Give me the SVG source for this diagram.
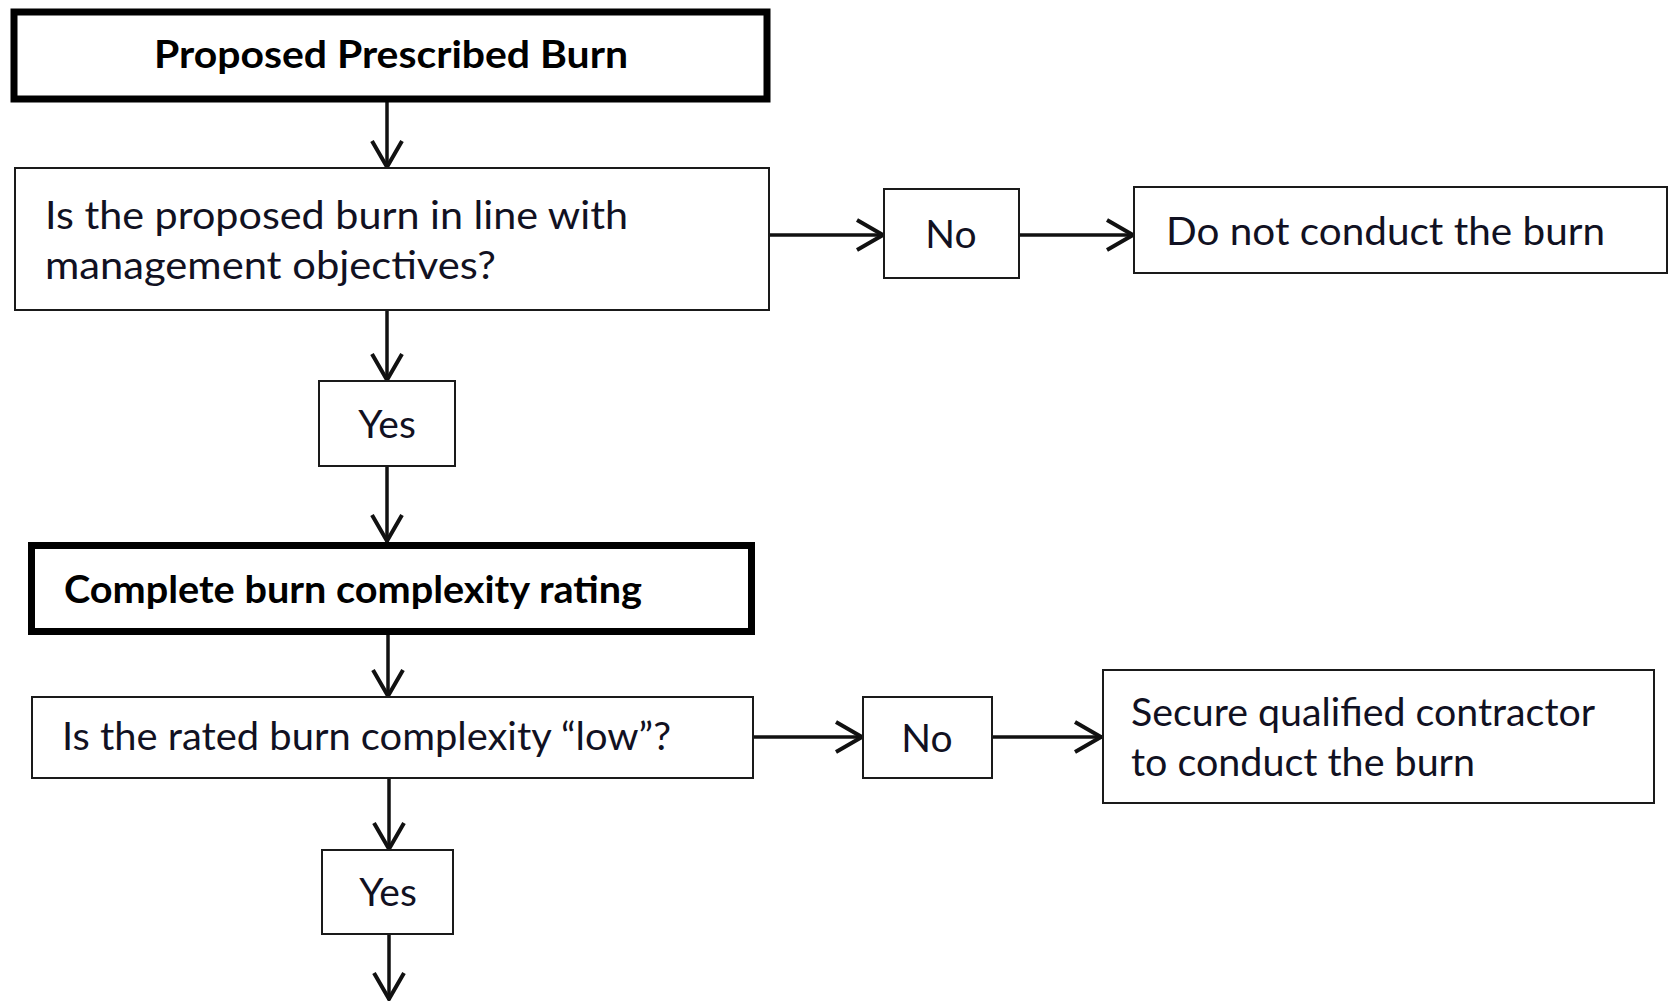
<svg xmlns="http://www.w3.org/2000/svg" width="1670" height="1001" viewBox="0 0 1670 1001">
  <style>
    .box { fill: #ffffff; stroke: #1a1a1a; stroke-width: 2; }
    .thick { fill: #ffffff; stroke: #000000; stroke-width: 7; }
    .t { font-family: "Lato", "Liberation Sans", sans-serif; font-size: 39px; fill: #111122; }
    .b { font-family: "Lato", "Liberation Sans", sans-serif; font-size: 38px; font-weight: bold; fill: #000000; }
    .c { text-anchor: middle; }
    .conn line { stroke: #111111; stroke-width: 3.5; fill: none; }
  </style>
  <defs>
    <marker id="arrow" markerUnits="userSpaceOnUse" viewBox="-32 -20 36 40" markerWidth="36" markerHeight="40" refX="0" refY="0" orient="auto">
      <path d="M -27 -15 L -1 0 L -27 15" fill="none" stroke="#111111" stroke-width="4" stroke-linejoin="miter"/>
    </marker>
  </defs>
  <rect width="1670" height="1001" fill="#ffffff"/>

  <g id="connectors" class="conn">
    <line x1="387" y1="102" x2="387" y2="168" marker-end="url(#arrow)"/>
    <line x1="769" y1="235" x2="884" y2="235" marker-end="url(#arrow)"/>
    <line x1="1019" y1="235" x2="1134" y2="235" marker-end="url(#arrow)"/>
    <line x1="387" y1="310" x2="387" y2="381" marker-end="url(#arrow)"/>
    <line x1="387" y1="466" x2="387" y2="542" marker-end="url(#arrow)"/>
    <line x1="388" y1="635" x2="388" y2="697" marker-end="url(#arrow)"/>
    <line x1="753" y1="737" x2="863" y2="737" marker-end="url(#arrow)"/>
    <line x1="992" y1="737" x2="1102" y2="737" marker-end="url(#arrow)"/>
    <line x1="389" y1="778" x2="389" y2="850" marker-end="url(#arrow)"/>
    <line x1="389" y1="934" x2="389" y2="1000" marker-end="url(#arrow)"/>
  </g>

  <g id="proposed-burn">
    <rect class="thick" x="14" y="12" width="753" height="87"/>
    <text class="b" x="154" y="68" textLength="474" lengthAdjust="spacingAndGlyphs">Proposed Prescribed Burn</text>
  </g>

  <g id="q-objectives">
    <rect class="box" x="15" y="168" width="754" height="142"/>
    <text class="t" x="45" y="229" textLength="583" lengthAdjust="spacingAndGlyphs">Is the proposed burn in line with</text>
    <text class="t" x="45" y="279" textLength="451" lengthAdjust="spacingAndGlyphs">management objectives?</text>
  </g>

  <g id="no-1">
    <rect class="box" x="884" y="189" width="135" height="89"/>
    <text class="t c" x="951" y="248">No</text>
  </g>

  <g id="do-not-conduct">
    <rect class="box" x="1134" y="187" width="533" height="86"/>
    <text class="t" x="1166" y="245" textLength="439" lengthAdjust="spacingAndGlyphs">Do not conduct the burn</text>
  </g>

  <g id="yes-1">
    <rect class="box" x="319" y="381" width="136" height="85"/>
    <text class="t c" x="387" y="438">Yes</text>
  </g>

  <g id="complexity-rating">
    <rect class="thick" x="31.5" y="545.5" width="720" height="86"/>
    <text class="b" x="64" y="603" textLength="578" lengthAdjust="spacingAndGlyphs">Complete burn complexity rating</text>
  </g>

  <g id="q-low">
    <rect class="box" x="32" y="697" width="721" height="81"/>
    <text class="t" x="62" y="750" textLength="609" lengthAdjust="spacingAndGlyphs">Is the rated burn complexity “low”?</text>
  </g>

  <g id="no-2">
    <rect class="box" x="863" y="697" width="129" height="81"/>
    <text class="t c" x="927" y="752">No</text>
  </g>

  <g id="secure-contractor">
    <rect class="box" x="1103" y="670" width="551" height="133"/>
    <text class="t" x="1131" y="726" textLength="464" lengthAdjust="spacingAndGlyphs">Secure qualified contractor</text>
    <text class="t" x="1131" y="776" textLength="344" lengthAdjust="spacingAndGlyphs">to conduct the burn</text>
  </g>

  <g id="yes-2">
    <rect class="box" x="322" y="850" width="131" height="84"/>
    <text class="t c" x="388" y="906">Yes</text>
  </g>
</svg>
